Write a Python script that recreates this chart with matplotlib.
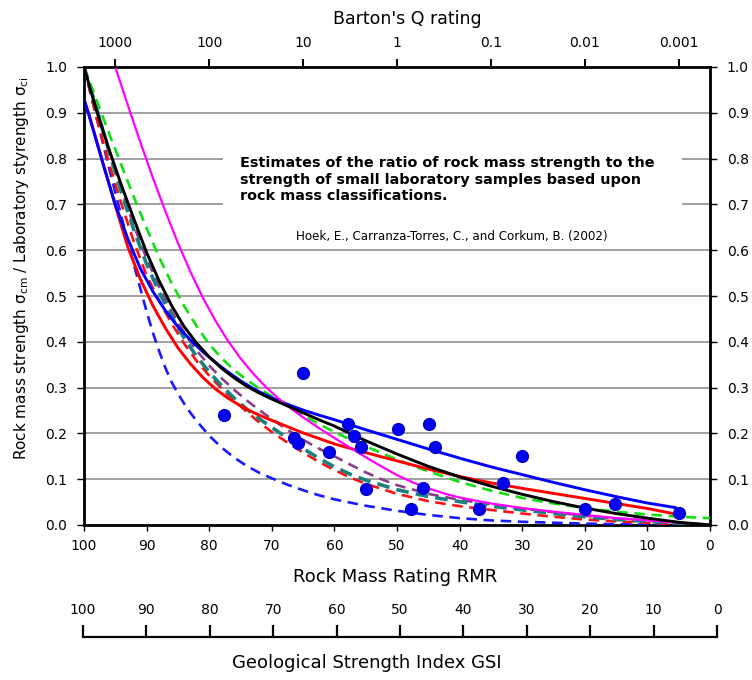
import matplotlib
matplotlib.use("Agg")
import matplotlib.pyplot as plt
from matplotlib.patches import Rectangle
import numpy as np

plt.rcParams['font.family'] = ['DejaVu Sans']
plt.rcParams['mathtext.default'] = 'regular'

# ---- curves (RMR, sigma_cm / sigma_ci) ----
black_rmr = [100, 98, 96, 94, 92, 90, 88, 86, 84, 82, 80, 78, 76, 74, 72, 70, 67.5, 65, 62.5, 60, 55, 50, 45, 40, 35, 30, 25, 20, 15, 10, 5, 0]
black_val = [1.0, 0.905, 0.82, 0.741, 0.667, 0.595, 0.533, 0.479, 0.433, 0.397, 0.367, 0.342, 0.321, 0.303, 0.288, 0.275, 0.26, 0.245, 0.23, 0.216, 0.184, 0.155, 0.128, 0.105, 0.085, 0.067, 0.051, 0.037, 0.025, 0.015, 0.006, 0.0]

magenta_rmr = [95, 93, 91, 89, 87, 85, 83, 81, 79, 77, 75, 73, 71, 69, 67, 65, 62.5, 60, 57.5, 55, 52.5, 50, 47.5, 45, 42.5, 40, 35, 30, 25, 20, 15, 10, 5]
magenta_val = [1.0, 0.917, 0.836, 0.758, 0.685, 0.616, 0.553, 0.496, 0.446, 0.402, 0.364, 0.331, 0.302, 0.277, 0.255, 0.235, 0.212, 0.19, 0.169, 0.148, 0.128, 0.109, 0.093, 0.08, 0.069, 0.06, 0.047, 0.037, 0.029, 0.022, 0.015, 0.01, 0.005]

green_rmr = [100, 98, 96, 94, 92, 90, 88, 86, 84, 82, 80, 78, 76, 74, 72, 70, 68, 66, 64, 62, 60, 58, 56, 54, 50, 46, 40, 35, 30, 25, 20, 15, 10, 5, 0]
green_val = [1.0, 0.928, 0.855, 0.785, 0.715, 0.648, 0.585, 0.528, 0.478, 0.434, 0.395, 0.364, 0.338, 0.317, 0.298, 0.281, 0.265, 0.248, 0.232, 0.217, 0.203, 0.19, 0.178, 0.166, 0.143, 0.122, 0.094, 0.075, 0.059, 0.047, 0.037, 0.029, 0.023, 0.018, 0.015]

blue_rmr = [100, 99, 97, 95, 93, 91, 89, 87, 85, 83, 81, 79, 77, 75, 73, 71, 69, 67, 65, 62.5, 60, 55, 50, 45, 40, 35, 30, 25, 20, 15, 10, 5.5, 4.8]
blue_val = [0.93, 0.885, 0.79, 0.7, 0.625, 0.56, 0.51, 0.468, 0.433, 0.404, 0.378, 0.355, 0.334, 0.315, 0.298, 0.284, 0.272, 0.261, 0.251, 0.24, 0.23, 0.208, 0.187, 0.166, 0.146, 0.127, 0.11, 0.093, 0.077, 0.062, 0.048, 0.038, 0.025]

red_rmr = [100, 99, 97, 95, 93, 91, 89, 87, 85, 83, 81, 79, 77, 75, 73, 71, 69, 67, 65, 62.5, 60, 55, 50, 45, 40, 35, 30, 25, 20, 15, 10, 4.8]
red_val = [0.93, 0.887, 0.792, 0.697, 0.607, 0.537, 0.479, 0.43, 0.387, 0.352, 0.322, 0.297, 0.277, 0.26, 0.246, 0.234, 0.223, 0.212, 0.201, 0.189, 0.177, 0.158, 0.14, 0.122, 0.106, 0.092, 0.08, 0.069, 0.058, 0.047, 0.036, 0.022]

blue_d_rmr = [100, 98, 96, 94, 92, 90, 89, 88, 87, 86, 85, 84, 83, 82, 80, 78, 76, 74, 72, 70, 67.5, 65, 62.5, 60, 55, 50, 45, 40, 35, 30, 25, 20, 15, 10, 5, 0]
blue_d_val = [1.0, 0.89, 0.78, 0.672, 0.567, 0.466, 0.42, 0.38, 0.343, 0.312, 0.287, 0.265, 0.245, 0.227, 0.195, 0.169, 0.147, 0.129, 0.114, 0.102, 0.088, 0.076, 0.065, 0.056, 0.042, 0.031, 0.022, 0.015, 0.01, 0.007, 0.005, 0.003, 0.002, 0.001, 0.0, 0.0]

red_d_rmr = [100, 98, 96, 94, 92, 90, 88, 86, 84, 82, 80, 78, 76, 74, 72, 70, 67.5, 65, 62.5, 60, 57.5, 55, 50, 45, 40, 35, 30, 25, 20, 15, 10, 5, 0]
red_d_val = [1.0, 0.89, 0.79, 0.7, 0.617, 0.545, 0.49, 0.44, 0.396, 0.358, 0.326, 0.298, 0.272, 0.247, 0.224, 0.203, 0.18, 0.158, 0.138, 0.12, 0.104, 0.09, 0.068, 0.052, 0.041, 0.033, 0.025, 0.018, 0.012, 0.008, 0.005, 0.002, 0.0]

teal_rmr = [100, 98, 96, 94, 92, 90, 88, 86, 84, 82, 80, 78, 76, 74, 72, 70, 67.5, 65, 62.5, 60, 57.5, 55, 50, 45, 40, 35, 30, 25, 20, 15, 10, 5, 0]
teal_val = [1.0, 0.91, 0.815, 0.725, 0.643, 0.57, 0.508, 0.455, 0.408, 0.368, 0.334, 0.304, 0.277, 0.253, 0.232, 0.213, 0.19, 0.167, 0.146, 0.127, 0.111, 0.098, 0.077, 0.062, 0.051, 0.041, 0.033, 0.025, 0.018, 0.012, 0.008, 0.004, 0.0]

purple_rmr = [100, 98, 96, 94, 92, 90, 88, 86, 84, 82, 80, 78, 76, 74, 72, 70, 67.5, 65, 62.5, 60, 57.5, 55, 52.5, 50, 45, 40, 35, 30, 25, 20, 15, 10, 5, 0]
purple_val = [1.0, 0.912, 0.82, 0.73, 0.652, 0.582, 0.52, 0.466, 0.42, 0.381, 0.348, 0.32, 0.295, 0.272, 0.251, 0.231, 0.208, 0.186, 0.167, 0.15, 0.132, 0.115, 0.1, 0.087, 0.068, 0.055, 0.045, 0.036, 0.028, 0.02, 0.014, 0.01, 0.005, 0.0]

# measured points
pts_rmr = [77.7, 65.0, 57.8, 66.5, 65.8, 56.9, 55.8, 60.9, 54.9, 49.9, 44.9, 44.0, 45.8, 47.8, 36.9, 30.0, 33.1, 19.9, 15.2, 4.9]
pts_val = [0.24, 0.331, 0.22, 0.19, 0.18, 0.194, 0.171, 0.159, 0.079, 0.21, 0.22, 0.171, 0.08, 0.035, 0.035, 0.151, 0.091, 0.036, 0.046, 0.026]

rmr_ticks = list(range(100, -1, -10))
y_ticks = [0.0, 0.1, 0.2, 0.3, 0.4, 0.5, 0.6, 0.7, 0.8, 0.9, 1.0]
q_ticks = [1000, 100, 10, 1, 0.1, 0.01, 0.001]
q_labels = ['1000', '100', '10', '1', '0.1', '0.01', '0.001']
gsi_ticks = list(range(100, -1, -10))

fig = plt.figure(figsize=(7.52, 6.8), dpi=100)
ax = fig.add_axes([84/752, 1-525/680, 626/752, 458/680])
ax.set_xlim(100, 0)
ax.set_ylim(0, 1)

for y in y_ticks[1:-1]:
    ax.axhline(y, color='#a0a0a0', lw=1.4, zorder=1)
# white box behind the note
ax.add_patch(Rectangle((0.222, 0.61), 0.733, 0.23, transform=ax.transAxes,
                       facecolor='white', edgecolor='none', zorder=2))

lw = 1.9
dash = (0, (4, 2.5))
ax.plot(blue_d_rmr, blue_d_val, color='#1a1aff', lw=lw, ls=dash, zorder=3)
ax.plot(red_d_rmr, red_d_val, color='#ff1010', lw=lw, ls=dash, zorder=3)
ax.plot(purple_rmr, purple_val, color='#8a3c8a', lw=lw, ls=dash, zorder=3)
ax.plot(teal_rmr, teal_val, color='#1a8080', lw=2.6, ls=(0, (3.5, 2)), zorder=3)
ax.plot(green_rmr, green_val, color='#10e010', lw=lw, ls=dash, zorder=3)
ax.plot(red_rmr, red_val, color='#ff0000', lw=2.1, zorder=4)
ax.plot(blue_rmr, blue_val, color='#0000ff', lw=2.1, zorder=4)
ax.plot(magenta_rmr, magenta_val, color='#ff00ff', lw=1.6, zorder=4)
ax.plot(black_rmr, black_val, color='black', lw=2.1, zorder=4)
ax.plot(pts_rmr, pts_val, 'o', color='#0000ee', ms=8.5, mec='#0000cc', zorder=5)

ax.text(0.249, 0.805, 'Estimates of the ratio of rock mass strength to the\n'
        'strength of small laboratory samples based upon\n'
        'rock mass classifications.', transform=ax.transAxes,
        fontsize=10.4, fontweight='bold', va='top', ha='left', linespacing=1.2, zorder=6)
ax.text(0.588, 0.631, 'Hoek, E., Carranza-Torres, C., and Corkum, B. (2002)',
        transform=ax.transAxes, fontsize=8.6, ha='center', va='center', zorder=6)

for s in ax.spines.values():
    s.set_linewidth(2)
ax.set_xticks(rmr_ticks)
ax.set_xticklabels([str(t) for t in rmr_ticks])
ax.set_yticks(y_ticks)
ax.set_yticklabels(['%.1f' % t for t in y_ticks])
ax.tick_params(axis='x', direction='out', length=4, width=1, labelsize=10, pad=6, top=False)
ax.tick_params(axis='y', direction='out', length=5, width=1, labelsize=10, pad=7,
               left=True, right=True, labelleft=True, labelright=True)

# Barton's Q scale on top
axq = ax.twiny()
axq.set_xlim(ax.get_xlim())
axq.set_xticks([15*np.log10(q) + 50 for q in q_ticks])
axq.set_xticklabels(q_labels)
axq.tick_params(axis='x', direction='out', length=6, width=1.4, labelsize=10, pad=6)

fig.text(407/752, 1-19/680, "Barton's Q rating", fontsize=12.5, ha='center', va='center')
fig.text(395/752, 1-577/680, 'Rock Mass Rating RMR', fontsize=13, ha='center', va='center')
fig.text(22/752, 1-268/680, r'Rock mass strength $\sigma_{cm}$ / Laboratory styrength $\sigma_{ci}$',
         fontsize=11, rotation=90, ha='center', va='center')

# GSI scale below
axg = fig.add_axes([83/752, 1-637/680, 634/752, 0.0001])
axg.set_xlim(100, 0)
axg.set_yticks([])
for k in ['left', 'right', 'bottom']:
    axg.spines[k].set_visible(False)
axg.spines['top'].set_linewidth(1.6)
axg.xaxis.set_ticks_position('top')
axg.set_xticks(gsi_ticks)
axg.set_xticklabels([str(t) for t in gsi_ticks])
axg.tick_params(axis='x', direction='out', length=9, width=1.6, labelsize=10, pad=5)
axg.patch.set_visible(False)
fig.text(367/752, 1-663/680, 'Geological Strength Index GSI', fontsize=13, ha='center', va='center')

fig.savefig('out.png', dpi=100)
